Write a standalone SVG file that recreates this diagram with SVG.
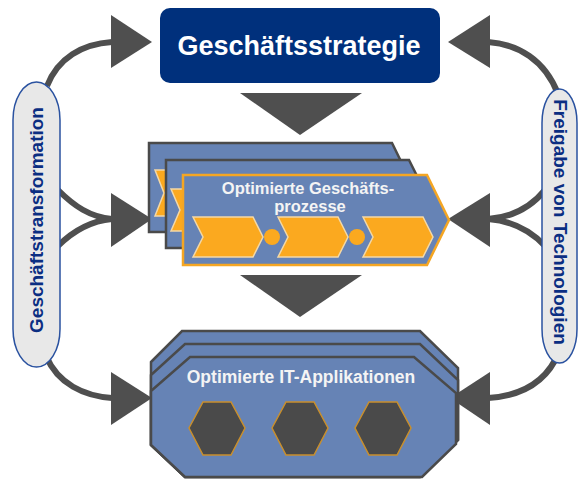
<svg xmlns="http://www.w3.org/2000/svg" width="578" height="479" viewBox="0 0 578 479">
<style>
.conn{fill:none;stroke:#4f4f4f;stroke-width:6;stroke-linecap:butt}
.head{fill:#4f4f4f}
.blue{fill:#6683b5;stroke:#4a4a4a;stroke-width:2.5;stroke-linejoin:miter}
.front{fill:#6683b5;stroke:#f5a623;stroke-width:2.5}
.chev{fill:#fba91f;stroke:#f3d8a6;stroke-width:1.5}
.dot{fill:#fba91f}
.hex{fill:#4a4a4a;stroke:#c98f2c;stroke-width:1.5}
.pill{fill:#e8e8e8;stroke:#2a52a0;stroke-width:1.5}
.ptxt{font-family:"Liberation Sans",Arial,sans-serif;font-weight:bold;font-size:19px;fill:#0b2e82;text-anchor:middle}
.wtxt{font-family:"Liberation Sans",Arial,sans-serif;font-weight:bold;font-size:17.5px;fill:#f4f4f4;text-anchor:middle}
.wtxt2{font-family:"Liberation Sans",Arial,sans-serif;font-weight:bold;font-size:16.5px;fill:#f4f4f4;text-anchor:middle}
</style>
<rect width="578" height="479" fill="#ffffff"/>
<g id="connectors">
<path class="conn" d="M47,86 C58,58 82,44 112,42"/>
<path class="conn" d="M488,42 C518,44 545,60 558,94"/>
<path class="conn" d="M58,190 C74,206 90,217 112,219"/>
<path class="conn" d="M58,246 C72,232 90,221 112,219"/>
<path class="conn" d="M545,190 C532,206 515,217 488,219"/>
<path class="conn" d="M545,246 C532,232 515,221 488,219"/>
<path class="conn" d="M46,356 C58,384 84,396 112,398"/>
<path class="conn" d="M559,352 C546,384 520,396 488,398"/>
<polygon class="head" points="111,15 152,42 111,68"/>
<polygon class="head" points="490,15 448,42 490,68"/>
<polygon class="head" points="111,193 152,219 111,247"/>
<polygon class="head" points="490,193 448,219 490,247"/>
<polygon class="head" points="111,372 152,398 111,425"/>
<polygon class="head" points="490,372 450,398 490,425"/>
<polygon class="head" points="240,93 362,93 300,135"/>
<polygon class="head" points="240,275 362,275 300,317"/>
</g>
<g id="strategie">
<rect x="160" y="8" width="280" height="75" rx="10" fill="#00307c"/>
<text x="299" y="55" font-family="'Liberation Sans',Arial,sans-serif" font-weight="bold" font-size="27" fill="#ffffff" text-anchor="middle">Geschäftsstrategie</text>
</g>
<g id="transformation">
<rect class="pill" x="13" y="82" width="47" height="285" rx="23.5" ry="38"/>
<text class="ptxt" transform="translate(43,220) rotate(-90)">Geschäftstransformation</text>
</g>
<g id="technologien">
<rect class="pill" x="542" y="89" width="35" height="274" rx="17.5" ry="34"/>
<text class="ptxt" transform="translate(554,222) rotate(90)">Freigabe von Technologien</text>
</g>
<g id="prozesse">
<polygon class="blue" points="149,143 392,143 414,188 392,232 149,232"/>
<polygon class="chev" points="155,170 200,170 210,193 200,216 155,216 164,193"/>
<polygon class="blue" points="166,160 409,160 431,204 409,248 166,248"/>
<polygon class="chev" points="171,189 220,189 230,210 220,231 171,231 180,210"/>
<polygon class="front" points="183,175 427,175 449,220 427,265 183,265"/>
<polygon class="chev" points="193,217 253,217 263,237 253,257 193,257 203,237"/>
<polygon class="chev" points="278,217 338,217 348,237 338,257 278,257 288,237"/>
<polygon class="chev" points="363,217 423,217 433,237 423,257 363,257 373,237"/>
<circle class="dot" cx="272" cy="237" r="8"/>
<circle class="dot" cx="357" cy="237" r="8"/>
<text class="wtxt2" x="308" y="194">Optimierte Geschäfts-</text>
<text class="wtxt2" x="310" y="212">prozesse</text>
</g>
<g id="applikationen">
<polygon class="blue" points="151,362 182,331 420,331 458,368 458,440 420,477 185,477 151,445"/>
<polygon class="blue" points="151,375 185,344 420,344 458,380 458,440 420,477 185,477 151,445"/>
<polygon class="blue" points="151,391 190,357 414,357 456,393 456,444 422,477 185,477 151,445"/>
<text class="wtxt" x="301" y="383">Optimierte IT-Applikationen</text>
<polygon class="hex" points="189,428 203,402 231,402 245,428 231,455 203,455"/>
<polygon class="hex" points="272,428 286,402 314,402 328,428 314,455 286,455"/>
<polygon class="hex" points="355,428 369,402 397,402 411,428 397,455 369,455"/>
</g>
</svg>
